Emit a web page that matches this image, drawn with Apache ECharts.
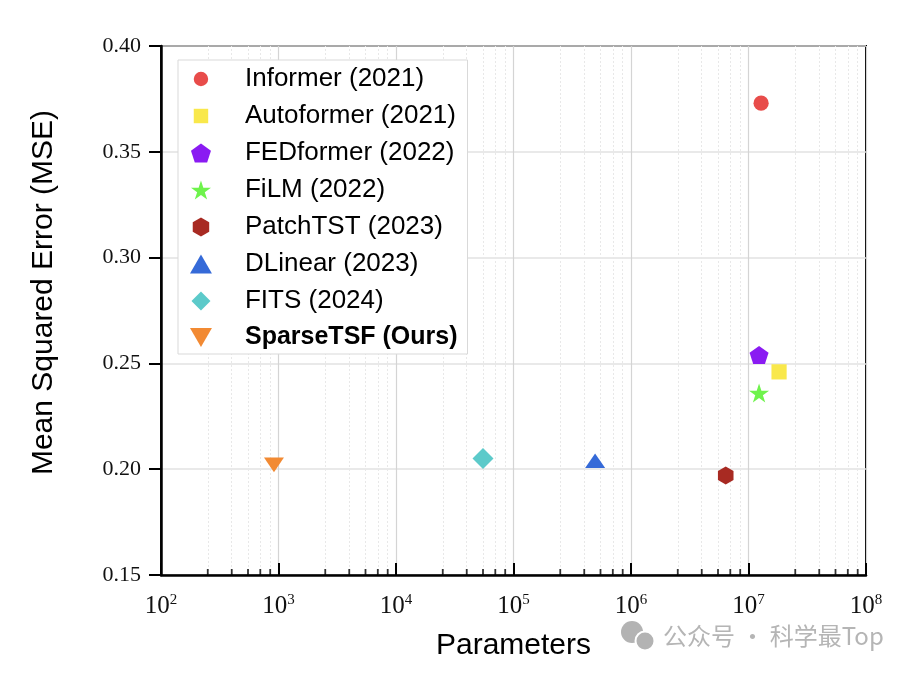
<!DOCTYPE html>
<html>
<head>
<meta charset="utf-8">
<script src="https://cdn.jsdelivr.net/npm/echarts@6/dist/echarts.min.js"></script>
<style>html,body{margin:0;padding:0;background:#fff;}#main{width:922px;height:676px;}</style>
</head>
<body>
<div id="main"></div>
<script>
// ---- data ----
const modelNames = ['Informer (2021)','Autoformer (2021)','FEDformer (2022)','FiLM (2022)','PatchTST (2023)','DLinear (2023)','FITS (2024)','SparseTSF (Ours)'];
const modelParams = [1.28e7, 1.82e7, 1.23e7, 1.23e7, 6.4e6, 4.95e5, 5.5e4, 915];
const modelMSE = [0.373, 0.246, 0.254, 0.236, 0.197, 0.204, 0.205, 0.202];
const modelColors = ['#e84c4a','#f9e84b','#8a1bf2','#6ef34c','#a82a22','#356ad8','#5ccaca','#f28a33'];
const yTicks = [0.15, 0.20, 0.25, 0.30, 0.35, 0.40];
const xDecades = [2, 3, 4, 5, 6, 7, 8];
const minorMultipliers = [2.5, 4, 5.5, 7, 8.5];

// ---- styles ----
const symbols = [
  'path://M0,0 M100,100 M50,12 A38,38 0 1 1 49.99,12 Z',
  'path://M0,0 M100,100 M12,12 L88,12 L88,88 L12,88 Z',
  'path://M50,0 L97.6,34.5 L79.4,90.5 L20.6,90.5 L2.4,34.5 Z',
  'path://M50,0 L61.2,34.5 L97.6,34.5 L68.2,55.9 L79.4,90.5 L50,69.1 L20.6,90.5 L31.8,55.9 L2.4,34.5 L38.8,34.5 Z',
  'path://M50,0 L93.3,25 L93.3,75 L50,100 L6.7,75 L6.7,25 Z',
  'path://M50,0 L100,86.6 L0,86.6 Z',
  'path://M50,0 L100,50 L50,100 L0,50 Z',
  'path://M0,0 L100,0 L50,86.6 Z'
];
const symbolSizes = [20, 20, 19, 20, 18, [20,17], [21,21], [20,17]];

const minorTickValues = [];
for (let i = 0; i < xDecades.length - 1; i++) {
  for (const m of minorMultipliers) minorTickValues.push(m * Math.pow(10, xDecades[i]));
}

const series = modelNames.map((name, i) => ({
  name: name,
  type: 'scatter',
  data: [[modelParams[i], modelMSE[i]]],
  symbol: symbols[i],
  symbolSize: symbolSizes[i],
  symbolKeepAspect: true,
  itemStyle: { color: modelColors[i], opacity: 1 },
  z: 5
}));

// minor log gridlines + minor ticks
series.push({
  name: '_minor',
  type: 'scatter',
  data: minorTickValues.map(v => [v, 0.15]),
  symbol: 'rect',
  symbolSize: [1.8, 6],
  symbolOffset: [0, -3],
  itemStyle: { color: '#000' },
  silent: true,
  clip: false,
  z: 3,
  markLine: {
    silent: true,
    symbol: 'none',
    label: { show: false },
    lineStyle: { color: '#e8e8e8', type: [2, 2], width: 1 },
    data: minorTickValues.map(v => ({ xAxis: v })),
    z: 0
  }
});

const chart = echarts.init(document.getElementById('main'), null, { renderer: 'canvas' });
chart.setOption({
  animation: false,
  backgroundColor: '#fff',
  grid: { left: 161, right: 56, top: 46, bottom: 101, show: true, borderColor: '#000', borderWidth: 2, backgroundColor: 'transparent' },
  legend: {
    data: modelNames,
    orient: 'vertical',
    left: 178,
    top: 60,
    padding: [6, 10, 4, 12],
    itemGap: 11,
    itemWidth: 30,
    itemHeight: 19,
    backgroundColor: '#fff',
    borderColor: '#d9d9d9',
    borderWidth: 1,
    z: 10,
    formatter: name => name === 'SparseTSF (Ours)' ? '{b|' + name + '}' : '{n|' + name + '}',
    textStyle: {
      rich: {
        n: { fontFamily: 'Liberation Sans, Arial, sans-serif', fontSize: 26, color: '#000', padding: [0, 0, 0, 24], lineHeight: 24 },
        b: { fontFamily: 'Liberation Sans, Arial, sans-serif', fontSize: 25, fontWeight: 'bold', color: '#000', padding: [0, 0, 0, 24], lineHeight: 24 }
      }
    }
  },
  xAxis: {
    type: 'log',
    logBase: 10,
    min: 100,
    max: 1e8,
    name: 'Parameters',
    nameLocation: 'middle',
    nameGap: 56,
    nameTextStyle: { fontFamily: 'Liberation Sans, Arial, sans-serif', fontSize: 30, color: '#000' },
    axisLine: { show: true, onZero: false, lineStyle: { color: '#000', width: 2.5 } },
    axisTick: { show: true, inside: true, length: 12, lineStyle: { color: '#000', width: 2 } },
    axisLabel: {
      margin: 18,
      formatter: v => '{b|10}{s|' + Math.round(Math.log10(v)) + '}',
      rich: {
        b: { fontFamily: 'Liberation Serif, Times New Roman, serif', fontSize: 25, color: '#111' },
        s: { fontFamily: 'Liberation Serif, Times New Roman, serif', fontSize: 15, color: '#111', padding: [0, 0, 12, 0] }
      }
    },
    splitLine: { show: true, lineStyle: { color: '#d4d4d4', width: 1.2 } },
    minorTick: { show: false },
    minorSplitLine: { show: false }
  },
  yAxis: {
    type: 'value',
    min: 0.15,
    max: 0.40,
    interval: 0.05,
    name: 'Mean Squared Error (MSE)',
    nameLocation: 'middle',
    nameGap: 102,
    nameRotate: 90,
    nameTextStyle: { fontFamily: 'Liberation Sans, Arial, sans-serif', fontSize: 30, color: '#000', padding: [0, 0, 0, 36] },
    axisLine: { show: true, onZero: false, lineStyle: { color: '#000', width: 2.5 } },
    axisTick: { show: true, inside: false, length: 12, lineStyle: { color: '#000', width: 2 } },
    axisLabel: {
      margin: 20,
      formatter: v => v.toFixed(2),
      fontFamily: 'Liberation Serif, Times New Roman, serif',
      fontSize: 22,
      color: '#111'
    },
    splitLine: { show: true, lineStyle: { color: '#e2e2e2', width: 1.5 } }
  },
  graphic: [
    { type: 'circle', silent: true, shape: { cx: 632, cy: 632, r: 11 }, style: { fill: '#b3b3b3' } },
    { type: 'circle', silent: true, shape: { cx: 645, cy: 641, r: 9.5 }, style: { fill: '#b3b3b3', stroke: '#fff', lineWidth: 2 } },
    {
      type: 'text',
      left: 663,
      top: 624,
      silent: true,
      style: { text: '公众号 · 科学最Top', fontFamily: 'Noto Sans CJK SC, sans-serif', fontSize: 24, fill: '#b5b5b5' }
    }
  ],
  series: series
});
</script>
</body>
</html>
